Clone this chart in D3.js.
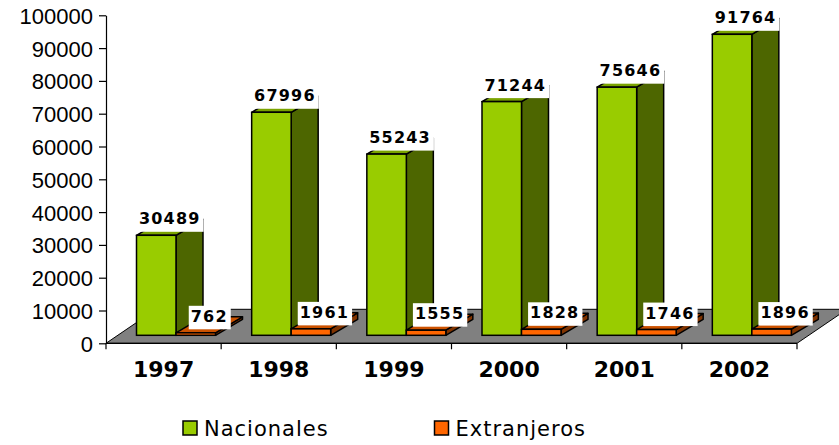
<!DOCTYPE html>
<html>
<head>
<meta charset="utf-8">
<script src="https://cdn.jsdelivr.net/npm/d3@7"></script>
<style>
  body { margin: 0; background: #fff; }
  svg { display: block; font-family: "DejaVu Sans", Verdana, sans-serif; }
  .axis text { font-size: 22px; fill: #000; }
  .axis path, .axis line { stroke: #000; stroke-width: 1.2; }
</style>
</head>
<body>
<div class="visHolder"></div>
<script>
// data
let years = ['1997', '1998', '1999', '2000', '2001', '2002'];
let nacionales = [30489, 67996, 55243, 71244, 75646, 91764];
let extranjeros = [762, 1961, 1555, 1828, 1746, 1896];
let yTicks = [0, 10000, 20000, 30000, 40000, 50000, 60000, 70000, 80000, 90000, 100000];
let seriesNames = ['Nacionales', 'Extranjeros'];

let width = 839,
  height = 445;

// colours for front / top / side of each series
let colors = [
  { front: '#99cc00', top: '#7aa300', side: '#4d6600' },
  { front: '#ff6600', top: '#cc5200', side: '#803300' }
];

let svgContainer = d3
  .select('.visHolder')
  .append('svg')
  .attr('width', width)
  .attr('height', height);

let xScale = d3.scaleBand().domain(years).range([106, 797]).padding(0);
let yScale = d3.scaleLinear().domain([0, 100000]).range([343.3, 15.3]);

// the 3d look: depth of the bars and of the floor, and how far the bars sit back on the floor
let depth = { dx: 27, dy: -16 },
  floorDepth = { dx: 50, dy: -34 },
  barInset = -8,
  barOffset = 30.5,
  barWidth = 39.5;

// gray floor
let y0 = yScale(0);
svgContainer
  .append('polygon')
  .attr('points', [
    [xScale.range()[0], y0],
    [xScale.range()[1], y0],
    [xScale.range()[1] + floorDepth.dx, y0 + floorDepth.dy],
    [xScale.range()[0] + floorDepth.dx, y0 + floorDepth.dy]
  ].join(' '))
  .attr('fill', '#808080')
  .attr('stroke', '#000')
  .attr('stroke-width', 1);

// y axis
let yAxis = d3.axisLeft(yScale)
  .tickValues(yTicks)
  .tickFormat(d3.format('d'))
  .tickSize(7)
  .tickPadding(6)
  .tickSizeOuter(0);
let yG = svgContainer
  .append('g')
  .attr('class', 'axis')
  .attr('transform', 'translate(106,0)')
  .call(yAxis);
yG.selectAll('text').attr('dy', '0.36em');

// x axis line and the ticks between the years
svgContainer
  .append('line')
  .attr('x1', xScale.range()[0]).attr('x2', xScale.range()[1])
  .attr('y1', y0).attr('y2', y0)
  .attr('stroke', '#000').attr('stroke-width', 1.2);

let bounds = years.map(function (d) { return xScale(d); }).concat([xScale.range()[1]]);
svgContainer
  .selectAll('.xtick')
  .data(bounds)
  .enter()
  .append('line')
  .attr('class', 'xtick')
  .attr('x1', function (d) { return d; })
  .attr('x2', function (d) { return d; })
  .attr('y1', y0)
  .attr('y2', y0 + 6)
  .attr('stroke', '#000')
  .attr('stroke-width', 1.2);

svgContainer
  .selectAll('.xlabel')
  .data(years)
  .enter()
  .append('text')
  .attr('class', 'xlabel')
  .attr('x', function (d) { return xScale(d) + xScale.bandwidth() / 2; })
  .attr('y', 377)
  .attr('text-anchor', 'middle')
  .style('font-size', '22px')
  .style('font-weight', 'bold')
  .text(function (d) { return d; });

// build the list of boxes, green first then orange in each year
let bars = [];
years.forEach(function (yr, i) {
  [nacionales[i], extranjeros[i]].forEach(function (v, s) {
    let x0 = xScale(yr) + barOffset + s * barWidth;
    let x1 = x0 + barWidth;
    let yb = yScale(0) + barInset;
    let yt = yScale(v) + barInset;
    bars.push({ year: yr, value: v, s: s, x0: x0, x1: x1, yb: yb, yt: yt });
  });
});

let barG = svgContainer
  .selectAll('.bar')
  .data(bars)
  .enter()
  .append('g')
  .attr('class', 'bar');

// side
barG
  .append('polygon')
  .attr('points', function (d) {
    return [
      [d.x1, d.yt],
      [d.x1 + depth.dx, d.yt + depth.dy],
      [d.x1 + depth.dx, d.yb + depth.dy],
      [d.x1, d.yb]
    ].join(' ');
  })
  .attr('fill', function (d) { return colors[d.s].side; })
  .attr('stroke', '#000')
  .attr('stroke-width', 1.5)
  .attr('stroke-linejoin', 'round');

// top
barG
  .append('polygon')
  .attr('points', function (d) {
    return [
      [d.x0, d.yt],
      [d.x1, d.yt],
      [d.x1 + depth.dx, d.yt + depth.dy],
      [d.x0 + depth.dx, d.yt + depth.dy]
    ].join(' ');
  })
  .attr('fill', function (d) { return colors[d.s].top; })
  .attr('stroke', '#000')
  .attr('stroke-width', 1.5)
  .attr('stroke-linejoin', 'round');

// front
barG
  .append('rect')
  .attr('x', function (d) { return d.x0; })
  .attr('y', function (d) { return d.yt; })
  .attr('width', barWidth)
  .attr('height', function (d) { return Math.max(0, d.yb - d.yt); })
  .attr('fill', function (d) { return colors[d.s].front; })
  .attr('stroke', '#000')
  .attr('stroke-width', 1.5);

// value labels with white boxes, drawn over everything
let labelG = svgContainer
  .selectAll('.vlabel')
  .data(bars)
  .enter()
  .append('g')
  .attr('class', 'vlabel');

let labelBox = labelG.append('rect').attr('fill', '#fff');

let labelText = labelG
  .append('text')
  .attr('x', function (d) { return (d.x0 + d.x1) / 2 + depth.dx / 2; })
  .attr('y', function (d) { return d.yt - 11; })
  .attr('text-anchor', 'middle')
  .style('font-size', '16px')
  .style('font-weight', 'bold')
  .style('letter-spacing', '1.2px')
  .text(function (d) { return d.value; });

labelText.each(function (d, i) {
  let bb = this.getBBox();
  d3.select(labelBox.nodes()[i])
    .attr('x', bb.x - 2)
    .attr('y', d.yt - 27)
    .attr('width', bb.width + 5)
    .attr('height', 23.5);
});

// legend
let legend = svgContainer
  .selectAll('.legend')
  .data(seriesNames)
  .enter()
  .append('g')
  .attr('class', 'legend')
  .attr('transform', function (d, i) { return 'translate(' + (183 + i * 251.5) + ',421)'; });

legend
  .append('rect')
  .attr('width', 14)
  .attr('height', 14)
  .attr('fill', function (d, i) { return colors[i].front; })
  .attr('stroke', '#000')
  .attr('stroke-width', 1.5);

legend
  .append('text')
  .attr('x', 21)
  .attr('y', 14.5)
  .style('font-size', '21px')
  .style('letter-spacing', '1px')
  .text(function (d) { return d; });
</script>
</body>
</html>
